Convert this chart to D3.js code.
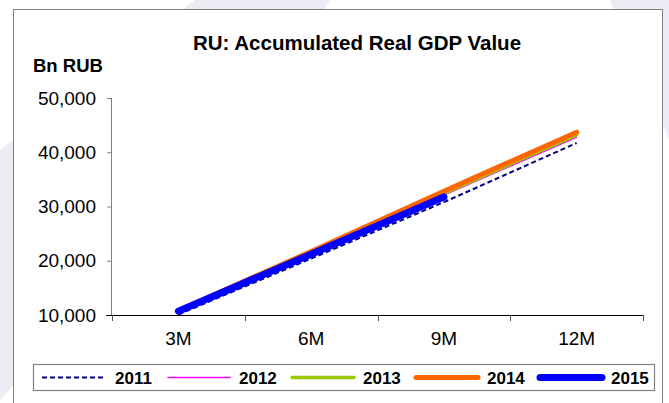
<!DOCTYPE html>
<html>
<head>
<meta charset="utf-8">
<script src="https://cdn.jsdelivr.net/npm/d3@7"></script>
<style>
body { margin: 0; background: #fff; }
text { font-family: "Liberation Sans", Arial, sans-serif; }
</style>
</head>
<body>
<div id="chart"></div>
<script>
var width = 669;
var height = 403;

// data (Bn RUB, accumulated)
var periods = ["3M", "6M", "9M", "12M"];
var years = ["2011", "2012", "2013", "2014", "2015"];
var v2011 = [10100, 20400, 30800, 41700];
var v2012 = [10600, 21300, 32100, 42800];
var v2013 = [10700, 21500, 32400, 43200];
var v2014 = [10800, 21700, 32800, 43700];
var v2015 = [10700, 21200, 31750];
var yTicks = [10000, 20000, 30000, 40000, 50000];

var seriesVals = [v2011, v2012, v2013, v2014, v2015];
var colors = ["#000080", "#ff00ff", "#99cc00", "#ff6600", "#0000ff"];
var widths = [2, 1.5, 3.5, 5, 7];
var dashes = ["5,3", null, null, null, null];

var svg = d3.select("#chart").append("svg").attr("width", width).attr("height", height);

// faint watermark behind the frame
var wm = "#ececf4";
svg.append("path").attr("fill", wm).attr("d", "M195,0 L330,0 L250,120 L0,400 L0,150 Z");
svg.append("path").attr("fill", wm).attr("d", "M610,0 L669,0 L669,140 Z");

// frame
svg.append("rect")
    .attr("x", 13.5).attr("y", 9.5)
    .attr("width", 649).attr("height", 400)
    .attr("fill", "#fff").attr("stroke", "#808080").attr("stroke-width", 1);

var x = d3.scaleBand().domain(periods).range([112, 643]).padding(0);
var y = d3.scaleLinear().domain([10000, 50000]).range([315, 98]);

// title
svg.append("text")
    .attr("x", 357).attr("y", 50)
    .attr("text-anchor", "middle")
    .style("font-size", "20.5px").style("font-weight", "bold")
    .text("RU: Accumulated Real GDP Value");

svg.append("text")
    .attr("x", 33).attr("y", 72)
    .style("font-size", "18.5px").style("font-weight", "bold")
    .text("Bn RUB");

// y axis
var yAxis = svg.append("g")
    .attr("transform", "translate(112,0)")
    .call(d3.axisLeft(y).tickValues(yTicks).tickSize(5).tickPadding(11).tickFormat(d3.format(",")));
yAxis.select(".domain").attr("stroke", "#808080").attr("d", "M-0.5," + y(50000) + "V" + y(10000));
yAxis.selectAll(".tick line").attr("stroke", "#808080");
yAxis.selectAll("text").style("font-size", "19px").attr("fill", "#000")
    .style("font-family", "'Liberation Sans', Arial, sans-serif");

// x axis: ticks on band edges, labels at centres
var xg = svg.append("g");
xg.append("line")
    .attr("x1", 106).attr("x2", 643)
    .attr("y1", 315.5).attr("y2", 315.5)
    .attr("stroke", "#000").attr("stroke-width", 1.2);
var edges = periods.map(function(p){ return x(p); }).concat([x.range()[1]]);
xg.selectAll(".xt").data(edges).enter().append("line")
    .attr("x1", function(d){ return Math.round(d) + 0.5; })
    .attr("x2", function(d){ return Math.round(d) + 0.5; })
    .attr("y1", 315).attr("y2", 321)
    .attr("stroke", "#555");
xg.selectAll(".xl").data(periods).enter().append("text")
    .attr("x", function(d){ return x(d) + x.bandwidth()/2; })
    .attr("y", 345)
    .attr("text-anchor", "middle")
    .style("font-size", "19px")
    .text(function(d){ return d; });

// lines
var line = d3.line()
    .x(function(d, i){ return x(periods[i]) + x.bandwidth()/2; })
    .y(function(d){ return y(d); });

for (var i = 0; i < years.length; i++) {
    svg.append("path")
        .attr("d", line(seriesVals[i]))
        .attr("fill", "none")
        .attr("stroke", colors[i])
        .attr("stroke-width", widths[i])
        .attr("stroke-linecap", i == 0 ? "butt" : "round")
        .attr("stroke-dasharray", dashes[i]);
}

// legend
svg.append("rect")
    .attr("x", 33.5).attr("y", 364.5)
    .attr("width", 621).attr("height", 26)
    .attr("fill", "#fff").attr("stroke", "#808080").attr("stroke-width", 1.2);

var legX = [42, 166, 290, 414, 538];
for (var j = 0; j < years.length; j++) {
    svg.append("line")
        .attr("x1", legX[j] + (j == 0 ? 0 : 2)).attr("x2", legX[j] + 64)
        .attr("y1", 377.5).attr("y2", 377.5)
        .attr("stroke", colors[j])
        .attr("stroke-width", widths[j])
        .attr("stroke-linecap", j == 0 ? "butt" : "round")
        .attr("stroke-dasharray", dashes[j]);
    svg.append("text")
        .attr("x", legX[j] + 73).attr("y", 384)
        .style("font-size", "17px").style("font-weight", "bold")
        .text(years[j]);
}
</script>
</body>
</html>
